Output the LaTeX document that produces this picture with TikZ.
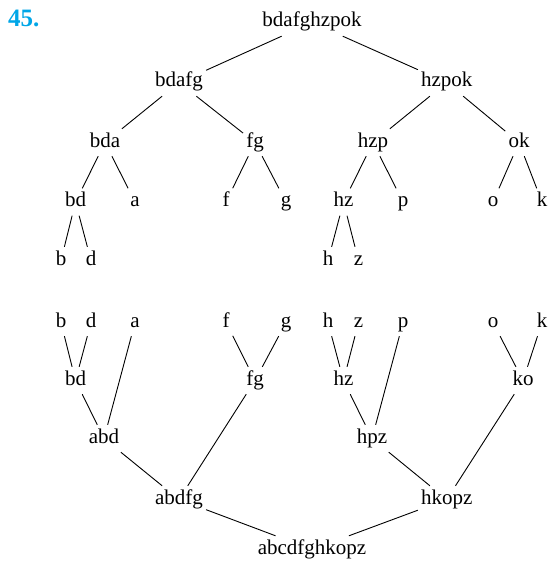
\documentclass[tikz,border=0pt]{standalone}
\usepackage{fontspec}
\setmainfont{Liberation Serif}
\definecolor{numblue}{RGB}{0,166,231}
\begin{document}
\begin{tikzpicture}[x=1pt,y=-1pt,
  lbl/.style={anchor=base, inner xsep=3pt, inner ysep=4pt, text height=14pt, text depth=5pt, font=\fontsize{21}{25}\selectfont},
  edge/.style={line width=0.9pt, black}]
\useasboundingbox (0,0) rectangle (558,567);
\node[anchor=base west, inner sep=0pt, font=\fontsize{25}{28}\selectfont\bfseries, text=numblue] (num) at (8,26.7) {45.};
% top tree
\node[lbl] (r) at (312,27) {bdafghzpok};
\node[lbl] (bdafg) at (179,87) {bdafg};
\node[lbl] (hzpok) at (446.7,87) {hzpok};
\node[lbl] (bda) at (105,147) {bda};
\node[lbl] (fg) at (255,147) {fg};
\node[lbl] (hzp) at (373,147) {hzp};
\node[lbl] (ok) at (519,147) {ok};
\node[lbl] (bd) at (75.5,206.5) {bd};
\node[lbl] (a) at (135,206.5) {a};
\node[lbl] (f) at (226,206.5) {f};
\node[lbl] (g) at (286,206.5) {g};
\node[lbl] (hz) at (343.5,206.5) {hz};
\node[lbl] (p) at (403,206.5) {p};
\node[lbl] (o) at (493,206.5) {o};
\node[lbl] (k) at (542,206.5) {k};
\node[lbl] (b) at (61,265) {b};
\node[lbl] (d) at (91,265) {d};
\node[lbl] (h) at (328,265) {h};
\node[lbl] (z) at (358.5,265) {z};
\draw[edge] (r) -- (bdafg);
\draw[edge] (r) -- (hzpok);
\draw[edge] (bdafg) -- (bda);
\draw[edge] (bdafg) -- (fg);
\draw[edge] (hzpok) -- (hzp);
\draw[edge] (hzpok) -- (ok);
\draw[edge] (bda) -- (bd);
\draw[edge] (bda) -- (a);
\draw[edge] (fg) -- (f);
\draw[edge] (fg) -- (g);
\draw[edge] (hzp) -- (hz);
\draw[edge] (hzp) -- (p);
\draw[edge] (ok) -- (o);
\draw[edge] (ok) -- (k);
\draw[edge] (bd) -- (b);
\draw[edge] (bd) -- (d);
\draw[edge] (hz) -- (h);
\draw[edge] (hz) -- (z);
% bottom tree
\node[lbl] (lb) at (61,327) {b};
\node[lbl] (ld) at (91,327) {d};
\node[lbl] (la) at (135,327) {a};
\node[lbl] (lf) at (226,327) {f};
\node[lbl] (lg) at (286,327) {g};
\node[lbl] (lh) at (328,327) {h};
\node[lbl] (lz) at (358.5,327) {z};
\node[lbl] (lp) at (403,327) {p};
\node[lbl] (lo) at (493,327) {o};
\node[lbl] (lk) at (542,327) {k};
\node[lbl] (lbd) at (75.5,385) {bd};
\node[lbl] (lfg) at (255,385) {fg};
\node[lbl] (lhz) at (343.5,385) {hz};
\node[lbl] (lko) at (523,385) {ko};
\node[lbl] (labd) at (104,443) {abd};
\node[lbl] (lhpz) at (372,443) {hpz};
\node[lbl] (labdfg) at (179,504) {abdfg};
\node[lbl] (lhkopz) at (446.7,504) {hkopz};
\node[lbl] (lroot) at (312,554) {abcdfghkopz};
\draw[edge] (lb) -- (lbd);
\draw[edge] (ld) -- (lbd);
\draw[edge] (lf) -- (lfg);
\draw[edge] (lg) -- (lfg);
\draw[edge] (lh) -- (lhz);
\draw[edge] (lz) -- (lhz);
\draw[edge] (lo) -- (lko);
\draw[edge] (lk) -- (lko);
\draw[edge] (lbd) -- (labd);
\draw[edge] (la) -- (labd);
\draw[edge] (lhz) -- (lhpz);
\draw[edge] (lp) -- (lhpz);
\draw[edge] (labd) -- (labdfg);
\draw[edge] (lfg) -- (labdfg);
\draw[edge] (lhpz) -- (lhkopz);
\draw[edge] (lko) -- (lhkopz);
\draw[edge] (labdfg) -- (lroot);
\draw[edge] (lhkopz) -- (lroot);
\end{tikzpicture}
\end{document}
